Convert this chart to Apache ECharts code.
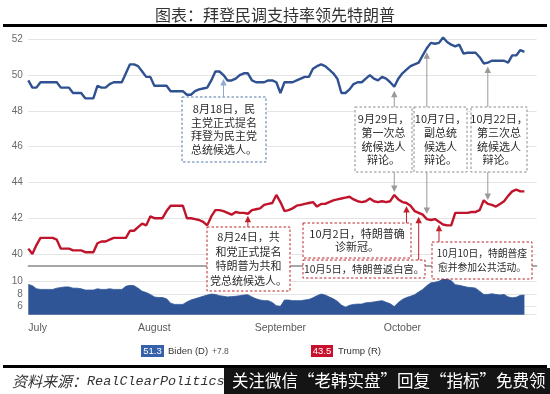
<!DOCTYPE html>
<html>
<head>
<meta charset="utf-8">
<style>
html,body{margin:0;padding:0;background:#fff;}
#chart{width:550px;height:394px;}
</style>
<script src="https://cdn.jsdelivr.net/npm/echarts/dist/echarts.min.js"></script>
</head>
<body>
<div id="chart"></div>
<script>
// ---------------- DATA ----------------
const START_DATE = '2020-07-01';
const DAY_COUNT = 126; // Jul 1 .. Nov 3 (axis room after the last poll)
const monthTicks = {'2020-07-01':'July','2020-08-01':'August','2020-09-01':'September','2020-10-01':'October'};

const biden = [
 49.7,49.3,49.3,49.6,49.6,49.6,49.6,49.6,49.3,49.3,
 49.3,49.0,49.0,49.0,48.7,48.7,48.7,49.4,49.3,49.3,
 49.5,49.6,49.6,49.6,50.1,50.6,50.6,50.5,50.2,49.9,
 49.9,49.4,49.4,49.4,49.4,49.1,49.1,49.1,49.1,48.9,
 48.9,49.1,49.2,49.25,49.3,49.7,50.2,50.2,50.0,49.7,
 49.7,49.8,50.0,50.1,50.1,49.7,49.6,49.6,49.6,49.7,
 49.7,49.6,49.0,49.6,49.6,49.6,49.7,49.8,49.9,49.9,
 50.35,50.5,50.6,50.5,50.3,50.1,49.8,49.0,49.0,49.2,
 49.5,49.6,49.6,49.8,50.0,49.8,49.7,49.9,49.8,49.6,
 49.35,49.8,50.1,50.3,50.5,50.6,50.7,51.1,51.5,51.8,
 51.75,51.8,52.1,51.85,51.7,51.6,51.7,51.2,51.25,51.25,
 51.25,51.0,50.65,50.7,50.8,50.8,50.8,50.8,50.7,51.1,
 51.1,51.4,51.3
];
const trump = [
 40.3,40.0,40.5,40.9,40.9,40.9,40.9,40.8,40.3,40.3,
 40.3,40.2,40.2,40.2,40.1,40.1,40.1,40.6,40.7,40.7,
 40.8,40.9,40.9,40.9,40.9,41.3,41.3,41.5,41.7,41.6,
 42.1,42.0,42.0,42.0,42.4,42.7,42.7,42.7,42.7,42.0,
 42.0,41.95,41.9,41.8,41.6,42.1,42.45,42.45,42.4,42.3,
 42.2,42.35,42.3,42.3,42.25,42.45,42.5,42.55,42.75,42.8,
 42.85,43.3,42.9,42.4,42.45,42.55,42.7,42.75,42.8,42.85,
 42.9,42.65,42.8,42.8,42.9,43.0,43.05,43.1,43.15,43.2,
 43.05,42.95,42.9,42.95,43.1,42.95,42.9,42.95,42.9,42.95,
 43.3,43.05,42.9,42.85,42.7,42.4,42.3,42.2,41.95,41.9,
 41.95,41.8,41.65,41.6,41.6,42.3,42.3,42.3,42.3,42.35,
 42.35,42.45,43.0,42.8,42.75,42.65,42.8,42.95,43.25,43.5,
 43.6,43.5,43.5
];
const spread = [
 9.5,9.3,8.8,8.7,8.7,8.7,8.7,8.9,9.0,9.1,
 9.1,8.9,8.9,8.8,8.6,8.6,8.6,8.8,8.7,8.7,
 8.8,8.7,8.7,8.7,9.2,9.35,9.3,8.9,8.4,8.2,
 7.9,7.5,7.4,7.4,7.2,6.5,6.3,6.3,6.3,6.7,
 7.0,7.2,7.4,7.6,7.8,7.95,7.9,7.7,7.6,7.5,
 7.55,7.6,7.7,7.8,7.85,7.5,7.2,7.0,6.9,6.9,
 6.6,6.1,6.0,7.0,7.0,6.9,6.9,6.9,7.0,7.1,
 7.35,7.7,7.95,7.8,7.5,7.2,6.8,6.2,5.85,6.15,
 6.3,6.35,6.35,6.55,6.6,6.7,6.8,6.9,6.65,6.4,
 5.95,6.6,7.1,7.4,7.6,7.85,8.3,8.7,9.3,9.75,
 9.85,10.0,10.4,10.35,10.1,9.45,9.35,9.2,9.05,9.0,
 8.9,8.4,7.9,7.9,8.0,7.9,7.8,7.9,7.5,7.35,
 7.45,7.75,7.8
];

const titleText = '图表：拜登民调支持率领先特朗普';
const sourceLabel = '资料来源：';
const sourceName = 'RealClearPolitics';
const bannerText = '关注微信“老韩实盘”回复“指标”免费领';
const legendNames = ['Biden (D)', 'Trump (R)'];

const events = [
  {date:'2020-08-18', lines:['8月18日，民','主党正式提名','拜登为民主党','总统候选人。'], kind:'dem'},
  {date:'2020-08-24', lines:['8月24日，共','和党正式提名','特朗普为共和','党总统候选人。'], kind:'rep'},
  {date:'2020-09-29', lines:['9月29日，','第一次总','统候选人','辩论。'], kind:'debate'},
  {date:'2020-10-07', lines:['10月7日，','副总统','候选人','辩论。'], kind:'debate'},
  {date:'2020-10-22', lines:['10月22日，','第三次总','统候选人','辩论。'], kind:'debate'},
  {date:'2020-10-02', lines:['10月2日，特朗普确','诊新冠。'], kind:'rep'},
  {date:'2020-10-05', lines:['10月5日，特朗普返白宫。'], kind:'rep'},
  {date:'2020-10-10', lines:['10月10日，特朗普痊','愈并参加公共活动。'], kind:'rep'}
];

// ---------------- BUILD ----------------
const dates = [];
(function(){
  const d0 = new Date(START_DATE + 'T00:00:00Z');
  for (let i = 0; i < DAY_COUNT; i++) {
    const d = new Date(d0.getTime() + i * 86400000);
    dates.push(d.toISOString().slice(0,10));
  }
})();

const BLUE = '#2f5192', RED = '#c0142c', AREA = '#2f5597';
const chart = echarts.init(document.getElementById('chart'), null, {renderer:'canvas'});

const GL = 28.3, GR = 13.4;
chart.setOption({
  animation: false,
  backgroundColor: '#ffffff',
  grid: [
    {left: GL, right: GR, top: 39.3, height: 214.7},
    {left: GL, right: GR, top: 281.3, height: 33.4}
  ],
  xAxis: [
    {type:'category', gridIndex:0, data:dates, boundaryGap:false, offset:11.3,
     axisLine:{show:true, lineStyle:{color:'#8a8a8a', width:1.5}},
     axisTick:{show:false}, axisLabel:{show:false}, splitLine:{show:false}},
    {type:'category', gridIndex:1, data:dates, boundaryGap:false,
     axisLine:{show:false}, axisTick:{show:false}, splitLine:{show:false},
     axisLabel:{
       show:true, margin:8, color:'#595959', fontSize:10.5, fontFamily:'Liberation Sans, Arial',
       interval: function(i, v){ return monthTicks[v] !== undefined; },
       formatter: function(v){ return monthTicks[v] || ''; },
       alignMinLabel: 'left'
     }}
  ],
  yAxis: [
    {type:'value', gridIndex:0, min:40, max:52, interval:2,
     axisLine:{show:false}, axisTick:{show:false},
     axisLabel:{color:'#6a6a6a', fontSize:10, margin:5.5, fontFamily:'Liberation Sans, Arial'},
     splitLine:{lineStyle:{color:'#e4e4e4', width:1}}},
    {type:'value', gridIndex:1, min:4.65, max:10, splitNumber:3,
     axisLine:{show:false}, axisTick:{show:false},
     axisLabel:{color:'#6a6a6a', fontSize:10, margin:5.5, showMinLabel:false, fontFamily:'Liberation Sans, Arial'},
     splitLine:{lineStyle:{color:'#e4e4e4', width:1}}}
  ],
  series: [
    {name:legendNames[0], type:'line', xAxisIndex:0, yAxisIndex:0, data:biden, showSymbol:false, clip:false,
     lineStyle:{color:BLUE, width:2.4}, itemStyle:{color:BLUE}, z:3},
    {name:legendNames[1], type:'line', xAxisIndex:0, yAxisIndex:0, data:trump, showSymbol:false, clip:false,
     lineStyle:{color:RED, width:2.4}, itemStyle:{color:RED}, z:3},
    {name:'spread', type:'line', xAxisIndex:1, yAxisIndex:1, data:spread, showSymbol:false, clip:false,
     lineStyle:{color:AREA, width:0.8}, areaStyle:{color:AREA, opacity:1, origin:'start'}, z:2}
  ]
});

// ---------------- ANNOTATIONS ----------------
const styles = {
  dem:{box:'#5577aa', arrow:'#8fa9cf'},
  rep:{box:'#b8282e', arrow:'#c0222c'},
  debate:{box:'#8c8c8c', arrow:'#9a9a9a'}
};
// box layouts (pixels) and arrow routing
const layout = {
  '2020-08-18':{box:[182,97,84,65], fs:11, lh:13.5, arrows:[{from:'top', to:'biden', off:4}]},
  '2020-08-24':{box:[207,227,83,64], fs:11, lh:14.5, arrows:[{from:'top', to:'trump', off:2}]},
  '2020-09-29':{box:[355,107,57,65], fs:11, lh:13.8, arrows:[{from:'top', to:'biden', off:4},{from:'bottom', to:'trump', off:-3}]},
  '2020-10-07':{box:[414,107,53,65], fs:11, lh:13.8, arrows:[{from:'top', to:'biden', off:4},{from:'bottom', to:'trump', off:-5}]},
  '2020-10-22':{box:[471,107,56,65], fs:11, lh:13.8, arrows:[{from:'top', to:'biden', off:4},{from:'bottom', to:'trump', off:-4}]},
  '2020-10-02':{box:[303,223,108,35], fs:11, lh:12.5, arrows:[{from:'top', to:'trump', off:3}]},
  '2020-10-05':{box:[303,260,122,18], fs:10.3, lh:13, arrows:[{from:'top', to:'trump', off:4}]},
  '2020-10-10':{box:[432,242,100,37], fs:9.8, lh:13.5, arrows:[{from:'top', to:'trump', off:3}]}
};

const g = [];
function arrow(x, y0, yt, color){
  const dir = yt < y0 ? 1 : -1; // 1 = pointing up
  g.push({type:'line', z:20, shape:{x1:x, y1:y0, x2:x, y2:yt + dir*5}, style:{stroke:color, lineWidth:1}});
  g.push({type:'polygon', z:20, shape:{points:[[x, yt],[x-3.2, yt+dir*6.5],[x+3.2, yt+dir*6.5]]}, style:{fill:color}});
}
events.forEach(function(ev){
  const L = layout[ev.date]; const st = styles[ev.kind];
  const idx = dates.indexOf(ev.date);
  const [bx, by, bw, bh] = L.box;
  g.push({type:'rect', z:19, shape:{x:bx, y:by, width:bw, height:bh},
          style:{fill:'#ffffff', stroke:st.box, lineWidth:1, lineDash:[2.5,2]}});
  g.push({type:'text', z:21, x:bx + bw/2, y:by + bh/2,
          style:{text:ev.lines.join('\n'), fill:'#2b2b2b', fontSize:L.fs, lineHeight:L.lh,
                 fontFamily:'Noto Sans CJK SC', align:'center', verticalAlign:'middle'}});
  L.arrows.forEach(function(a){
    const val = a.to === 'biden' ? biden[idx] : trump[idx];
    const p = chart.convertToPixel({xAxisIndex:0, yAxisIndex:0}, [idx, val]);
    const y0 = a.from === 'top' ? by : by + bh;
    arrow(p[0], y0, p[1] + a.off, st.arrow);
  });
});

// title, rules, legend, footer
g.push({type:'text', z:30, x:275, y:14.5, style:{text:titleText, fill:'#333', fontSize:16,
        fontFamily:'Noto Sans CJK SC', align:'center', verticalAlign:'middle'}});
g.push({type:'line', z:30, shape:{x1:3, y1:25.5, x2:547, y2:25.5}, style:{stroke:'#000', lineWidth:3}});
g.push({type:'line', z:30, shape:{x1:3, y1:366.5, x2:547, y2:366.5}, style:{stroke:'#000', lineWidth:3}});

const lastB = biden[biden.length-1], lastT = trump[trump.length-1], lastS = spread[spread.length-1];
g.push({type:'rect', z:30, shape:{x:141, y:345, width:23, height:12}, style:{fill:'#3461a9'}});
g.push({type:'text', z:31, x:152.5, y:351.5, style:{text:lastB.toFixed(1), fill:'#fff', fontSize:9.5,
        fontFamily:'Liberation Sans', align:'center', verticalAlign:'middle'}});
g.push({type:'text', z:31, x:168, y:351.5, style:{text:legendNames[0], fill:'#333', fontSize:9.5,
        fontFamily:'Liberation Sans', align:'left', verticalAlign:'middle'}});
g.push({type:'text', z:31, x:212, y:351.5, style:{text:'+' + lastS.toFixed(1), fill:'#555', fontSize:8.5,
        fontFamily:'Liberation Sans', align:'left', verticalAlign:'middle'}});
g.push({type:'rect', z:30, shape:{x:311, y:345, width:22, height:12}, style:{fill:'#c8102e'}});
g.push({type:'text', z:31, x:322, y:351.5, style:{text:lastT.toFixed(1), fill:'#fff', fontSize:9.5,
        fontFamily:'Liberation Sans', align:'center', verticalAlign:'middle'}});
g.push({type:'text', z:31, x:338, y:351.5, style:{text:legendNames[1], fill:'#333', fontSize:9.5,
        fontFamily:'Liberation Sans', align:'left', verticalAlign:'middle'}});

g.push({type:'text', z:30, x:12, y:381, style:{
  text:'{a|' + sourceLabel + '}{b|' + sourceName + '}', align:'left', verticalAlign:'middle',
  rich:{a:{fontSize:15, fontFamily:'Noto Sans CJK SC', fill:'#333', fontStyle:'italic'},
        b:{fontSize:13.5, fontFamily:'Liberation Mono', fill:'#333', fontStyle:'italic'}}}});
g.push({type:'rect', z:30, shape:{x:224, y:368, width:326, height:26}, style:{fill:'#141414'}});
g.push({type:'text', z:31, x:232, y:381, style:{text:bannerText, fill:'#fff', fontSize:16.5,
        fontFamily:'Noto Sans CJK SC', align:'left', verticalAlign:'middle'}});

chart.setOption({graphic: g});
</script>
</body>
</html>
